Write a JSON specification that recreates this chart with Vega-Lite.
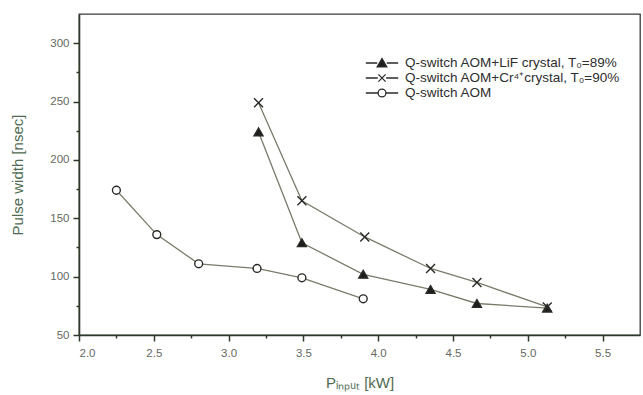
{
  "$schema": "https://vega.github.io/schema/vega-lite/v6.json",
  "width": 561,
  "height": 321,
  "autosize": {"type": "none"},
  "padding": {"left": 79, "top": 14, "right": 3, "bottom": 60},
  "background": "white",
  "config": {
    "view": {"stroke": "#3a3a36", "strokeWidth": 1.3},
    "font": "Liberation Sans",
    "axis": {
      "grid": false,
      "domainColor": "#2f3a2a",
      "domainWidth": 1.6,
      "tickColor": "#2f3a2a",
      "tickWidth": 1.5,
      "labelColor": "#66695f",
      "labelFont": "Liberation Sans",
      "labelFontSize": 11.5,
      "titleColor": "#4f6a52",
      "titleFont": "Liberation Sans",
      "titleFontSize": 15,
      "titleFontWeight": "normal"
    }
  },
  "data": {
    "values": [
      {"series": "Q-switch AOM+LiF crystal, T₀=89%", "x": 3.20, "y": 224},
      {"series": "Q-switch AOM+LiF crystal, T₀=89%", "x": 3.49, "y": 129},
      {"series": "Q-switch AOM+LiF crystal, T₀=89%", "x": 3.90, "y": 102},
      {"series": "Q-switch AOM+LiF crystal, T₀=89%", "x": 4.35, "y": 89},
      {"series": "Q-switch AOM+LiF crystal, T₀=89%", "x": 4.66, "y": 77},
      {"series": "Q-switch AOM+LiF crystal, T₀=89%", "x": 5.13, "y": 73},
      {"series": "Q-switch AOM+Cr⁴⁺crystal, T₀=90%", "x": 3.20, "y": 249},
      {"series": "Q-switch AOM+Cr⁴⁺crystal, T₀=90%", "x": 3.49, "y": 165},
      {"series": "Q-switch AOM+Cr⁴⁺crystal, T₀=90%", "x": 3.91, "y": 134},
      {"series": "Q-switch AOM+Cr⁴⁺crystal, T₀=90%", "x": 4.35, "y": 107},
      {"series": "Q-switch AOM+Cr⁴⁺crystal, T₀=90%", "x": 4.66, "y": 95},
      {"series": "Q-switch AOM+Cr⁴⁺crystal, T₀=90%", "x": 5.13, "y": 74},
      {"series": "Q-switch AOM", "x": 2.25, "y": 174},
      {"series": "Q-switch AOM", "x": 2.52, "y": 136},
      {"series": "Q-switch AOM", "x": 2.80, "y": 111},
      {"series": "Q-switch AOM", "x": 3.19, "y": 107},
      {"series": "Q-switch AOM", "x": 3.49, "y": 99},
      {"series": "Q-switch AOM", "x": 3.90, "y": 81}
    ]
  },
  "encoding": {
    "x": {
      "field": "x",
      "type": "quantitative",
      "scale": {"domain": [2, 5.75], "nice": false, "zero": false},
      "axis": {
        "title": "Pᵢₙₚᵤₜ [kW]",
        "values": [2, 2.25, 2.5, 2.75, 3, 3.25, 3.5, 3.75, 4, 4.25, 4.5, 4.75, 5, 5.25, 5.5],
        "labelExpr": "(datum.value * 4) % 2 === 0 ? format(datum.value, '.1f') : ''",
        "tickSize": {"condition": {"test": "(datum.value * 4) % 2 !== 0", "value": 3}, "value": 6},
        "labelPadding": 6,
        "titlePadding": 17
      }
    },
    "y": {
      "field": "y",
      "type": "quantitative",
      "scale": {"domain": [50, 325], "nice": false, "zero": false},
      "axis": {
        "title": "Pulse width [nsec]",
        "values": [50, 75, 100, 125, 150, 175, 200, 225, 250, 275, 300],
        "labelExpr": "datum.value % 50 === 0 ? datum.value : ''",
        "tickSize": {"condition": {"test": "datum.value % 50 !== 0", "value": 3}, "value": 6},
        "labelPadding": 4,
        "titlePadding": 24
      }
    }
  },
  "layer": [
    {
      "mark": {"type": "line", "color": "#7b7b6c", "strokeWidth": 1.3},
      "encoding": {"detail": {"field": "series"}}
    },
    {
      "mark": {"type": "point", "filled": false, "stroke": "#2a2a28", "strokeWidth": 1.4, "opacity": 1},
      "encoding": {
        "shape": {
          "condition": [
            {"test": "datum.series === 'Q-switch AOM'", "value": "circle"},
            {"test": "indexof(datum.series, 'LiF') >= 0", "value": "triangle-up"}
          ],
          "value": "M-1,-1L1,1M-1,1L1,-1"
        },
        "fill": {
          "condition": [
            {"test": "datum.series === 'Q-switch AOM'", "value": "white"},
            {"test": "indexof(datum.series, 'LiF') >= 0", "value": "#1e1e1c"}
          ],
          "value": "transparent"
        },
        "size": {
          "condition": [
            {"test": "datum.series === 'Q-switch AOM'", "value": 62},
            {"test": "indexof(datum.series, 'LiF') >= 0", "value": 80}
          ],
          "value": 80
        }
      }
    },
    {
      "transform": [{"filter": "false"}],
      "mark": {"type": "point", "filled": false, "strokeWidth": 1.3, "size": 144, "opacity": 1},
      "encoding": {
        "shape": {
          "field": "series",
          "type": "nominal",
          "scale": {
            "domain": ["Q-switch AOM+LiF crystal, T₀=89%", "Q-switch AOM+Cr⁴⁺crystal, T₀=90%", "Q-switch AOM"],
            "range": [
              "M-2.7,0H-0.8M0.8,0H2.7M-0.8,0.65L0,-0.75L0.8,0.65Z",
              "M-2.7,0H-0.7M0.7,0H2.7M-0.6,-0.6L0.6,0.6M-0.6,0.6L0.6,-0.6",
              "M-2.7,0H-0.65M0.65,0H2.7M-0.65,0A0.65,0.65 0 1,0 0.65,0A0.65,0.65 0 1,0 -0.65,0Z"
            ]
          },
          "legend": {
            "title": null,
            "orient": "none",
            "legendX": 296,
            "legendY": 42,
            "padding": 0,
            "symbolSize": 144,
            "symbolStrokeWidth": 1.3,
            "labelOffset": 16,
            "labelFont": "Liberation Sans",
            "labelFontSize": 13.5,
            "labelColor": "#2e2e2e",
            "labelLimit": 400,
            "rowPadding": 1
          }
        },
        "fill": {
          "field": "series",
          "type": "nominal",
          "scale": {
            "domain": ["Q-switch AOM+LiF crystal, T₀=89%", "Q-switch AOM+Cr⁴⁺crystal, T₀=90%", "Q-switch AOM"],
            "range": ["#1e1e1c", "transparent", "white"]
          }
        },
        "stroke": {
          "field": "series",
          "type": "nominal",
          "scale": {
            "domain": ["Q-switch AOM+LiF crystal, T₀=89%", "Q-switch AOM+Cr⁴⁺crystal, T₀=90%", "Q-switch AOM"],
            "range": ["#2a2a28", "#2a2a28", "#2a2a28"]
          }
        }
      }
    }
  ]
}
